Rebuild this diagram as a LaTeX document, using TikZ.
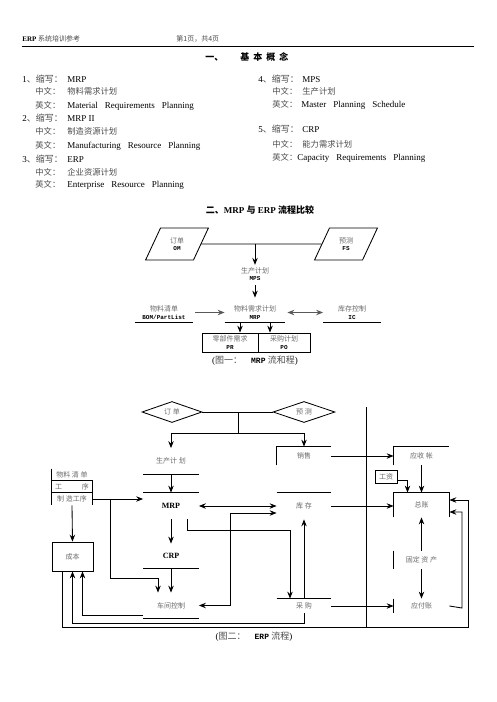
\documentclass[tikz,border=0pt]{standalone}
\usepackage{fontspec}
\setmainfont{Liberation Serif}
\setmonofont{Liberation Mono}
\newfontfamily\cjk{Noto Sans CJK SC}
\usetikzlibrary{arrows.meta,shapes.geometric,calc}
\newcommand{\zh}[1]{{\cjk #1}}
\newcommand{\mn}[1]{{\color{black}\ttfamily\bfseries\fontsize{6}{6}\selectfont #1}}
\definecolor{zhgray}{gray}{0.3}
\definecolor{labgray}{gray}{0.42}
\definecolor{arrgray}{gray}{0.35}
\begin{document}
\begin{tikzpicture}[x=1pt,y=-1pt,line width=0.85pt,
  >={Stealth[length=7pt,width=5.5pt,inset=2.5pt]},
  bt/.style={anchor=base west,inner sep=0pt,font=\fontsize{9}{10}\selectfont},
  zt/.style={anchor=base west,inner sep=0pt,text=zhgray,font=\cjk\fontsize{8.3}{10}\selectfont},
  lbl/.style={inner sep=0pt,align=center,text=labgray,font=\fontsize{7}{7.6}\selectfont},
  para/.style={trapezium,trapezium left angle=65,trapezium right angle=115,draw,
     minimum width=63pt,minimum height=22pt,inner sep=1pt,lbl},
  dia/.style={diamond,draw,aspect=2.9,minimum width=60pt,minimum height=21pt,inner sep=0pt,lbl},
  boxed/.style={draw,lbl}]
\fill[white] (0,0) rectangle (496,702);
\useasboundingbox (0,0) rectangle (496,702);

% header
\node[bt,font=\fontsize{7}{8}\selectfont] (hdl) at (22,41) {\textbf{ERP} \zh{\color{zhgray}系统培训参考}};
\node[bt,font=\fontsize{7}{8}\selectfont] (hdm) at (176,41) {\zh{\color{zhgray}第1页，共4页}};
\coordinate (hl1) at (22,46.5);
\coordinate (hl2) at (474,46.5);
\draw[line width=1pt] (hl1) -- (hl2);
\node[bt,font=\cjk\bfseries\fontsize{9}{10}\selectfont] (t1a) at (205,60) {一、};
\node[bt,font=\cjk\bfseries\fontsize{9}{10}\selectfont] (t1b) at (240,60) {基\hspace{4pt}本\hspace{4pt}概\hspace{4pt}念};

% section 1 left
\node[bt] (a1) at (22,82) {1\zh{\color{zhgray}、缩写：}};
\node[bt] (a1v) at (67,82) {MRP};
\node[zt] (a2) at (35,94) {中文：};
\node[zt] (a2v) at (67,94) {物料需求计划};
\node[zt] (a3) at (35,108) {英文：};
\node[bt] (a3v) at (67,108) {Material\hspace{7pt}Requirements\hspace{7pt}Planning};
\node[bt] (b1) at (22,121) {2\zh{\color{zhgray}、缩写：}};
\node[bt] (b1v) at (67,121) {MRP II};
\node[zt] (b2) at (35,134) {中文：};
\node[zt] (b2v) at (67,134) {制造资源计划};
\node[zt] (b3) at (35,148) {英文：};
\node[bt] (b3v) at (67,148) {Manufacturing\hspace{7pt}Resource\hspace{7pt}Planning};
\node[bt] (c1) at (22,162) {3\zh{\color{zhgray}、缩写：}};
\node[bt] (c1v) at (67,162) {ERP};
\node[zt] (c2) at (35,175) {中文：};
\node[zt] (c2v) at (67,175) {企业资源计划};
\node[zt] (c3) at (35,187) {英文：};
\node[bt] (c3v) at (67,187) {Enterprise\hspace{7pt}Resource\hspace{7pt}Planning};

% section 1 right
\node[bt] (d1) at (258,82) {4\zh{\color{zhgray}、缩写：}};
\node[bt] (d1v) at (302,82) {MPS};
\node[zt] (d2) at (272,94) {中文：};
\node[zt] (d2v) at (302,94) {生产计划};
\node[zt] (d3) at (272,107) {英文：};
\node[bt] (d3v) at (301,107) {Master\hspace{7pt}Planning\hspace{7pt}Schedule};
\node[bt] (e1) at (258,132) {5\zh{\color{zhgray}、缩写：}};
\node[bt] (e1v) at (302,132) {CRP};
\node[zt] (e2) at (272,147) {中文：};
\node[zt] (e2v) at (302,147) {能力需求计划};
\node[zt] (e3) at (272,160) {英文：};
\node[bt] (e3v) at (297,160) {Capacity\hspace{7pt}Requirements\hspace{7pt}Planning};

% section 2 title
\node[inner sep=0pt,font=\fontsize{9}{10}\selectfont] (t2) at (260,210)
  {\zh{\bfseries 二、}\textbf{MRP} \zh{\bfseries 与} \textbf{ERP} \zh{\bfseries 流程比较}};

% ---------- figure 1 ----------
\node[para] (om) at (177,244) {\zh{订单}\\\mn{OM}};
\node[para] (fs) at (346,244) {\zh{预测}\\\mn{FS}};
\coordinate (j1) at (255,244);
\draw (om.east) -- (fs.west);
\node[lbl] (mps) at (255,274) {\zh{生产计划}\\\mn{MPS}};
\draw[->] (j1) -- ([yshift=2pt]mps.north);
\node[lbl,minimum width=58pt,minimum height=19pt] (bom) at (164,312.5) {\zh{物料清单}\\\mn{BOM/PartList}};
\node[lbl,minimum width=60pt,minimum height=19pt] (mrp) at (255,312.5) {\zh{物料需求计划}\\\mn{MRP}};
\node[lbl,minimum width=57pt,minimum height=19pt] (ic) at (352,312.5) {\zh{库存控制}\\\mn{IC}};
\draw[->] ([yshift=-4pt]mps.south) -- ([yshift=5pt]mrp.north);
\draw (bom.south west) -- (bom.south east);
\draw (mrp.south west) -- (mrp.south east);
\draw (ic.south west) -- (ic.south east);
\draw[->,arrgray] ([xshift=2pt]bom.east) -- (mrp.west);
\draw[<->,arrgray] ([xshift=2pt]mrp.east) -- (ic.west);
\node[boxed,minimum width=56pt,minimum height=19pt] (pr) at (230,342.5) {\zh{零部件需求}\\\mn{PR}};
\node[boxed,minimum width=52pt,minimum height=19pt] (po) at (284,342.5) {\zh{采购计划}\\\mn{PO}};
\draw[->] ([xshift=-15pt]mrp.south) -- ([xshift=-15pt]mrp.south |- pr.north);
\draw[->] ([xshift=15pt]mrp.south) -- ([xshift=15pt]mrp.south |- po.north);
\node[inner sep=0pt,font=\fontsize{9}{10}\selectfont] (cap1) at (255,361)
  {(\zh{\color{zhgray}图一：}\quad{\ttfamily\bfseries\fontsize{8}{9}\selectfont MRP} \zh{\color{zhgray}流和程})};

% ---------- figure 2 ----------
\node[dia] (dord) at (172,412) {\zh{订\ 单}};
\node[dia,minimum width=62pt] (dfc) at (304,412) {\zh{预\ 测}};
\draw (dord.east) -- (dfc.west);
\coordinate (j2) at (238,412);
\coordinate (j3) at (238,433);
\draw (j2) -- (j3);

\node[lbl,minimum width=55pt,minimum height=25pt] (plan) at (171,461) {\zh{生产计\ 划}};
\node[inner sep=0pt,font=\bfseries\fontsize{8}{9}\selectfont,minimum width=55pt,minimum height=26pt] (mrp2) at (171,506) {MRP};
\node[inner sep=0pt,font=\bfseries\fontsize{8}{9}\selectfont,minimum width=55pt,minimum height=24pt] (crp) at (171,556) {CRP};
\node[lbl,minimum width=55pt,minimum height=25pt] (shop) at (171,605.5) {\zh{车间控制}};
\draw[->] (j3) -| (plan.north);
\draw (plan.south west) -- (plan.south east);
\draw (mrp2.north west) -- (mrp2.north east);
\draw (crp.south west) -- (crp.south east);
\draw (shop.south west) -- (shop.south east);
\draw[->] (plan.south) -- (mrp2.north);
\draw[->] (mrp2.south) -- (crp.north);
\draw[->] (crp.south) -- (shop.north);

% left table
\node[lbl,minimum width=40pt,minimum height=12pt] (r1) at (72,475) {\zh{物料\ 清\ 单}};
\node[lbl,minimum width=40pt,minimum height=12pt] (r2) at (72,487) {\zh{工\hspace{20pt}序}};
\node[lbl,minimum width=40pt,minimum height=12pt] (r3) at (72,499) {\zh{制\ 造工序}};
\draw (r1.north west) -- (r3.south west);
\draw (r2.north west) -- (r2.north east) -- (r3.south east);
\draw (r3.north west) -- (r3.north east);
\node[boxed,minimum width=41pt,minimum height=29pt] (cost) at (72.5,556.5) {\zh{成本}};
\draw[->] (r3.south) -- (cost.north);
\draw[->] (r3.east) -- (r3.east -| mrp2.west);
\coordinate (j4) at (110,499);
\coordinate (k1) at (158,578);
\draw[->] (j4) |- (k1) -- (k1 |- shop.north);

% middle column
\node[lbl,minimum width=54pt,minimum height=18pt] (sale) at (304,456) {\zh{销售}};
\node[lbl,minimum width=54pt,minimum height=26pt] (stock) at (304,506) {\zh{库\ 存}};
\node[lbl,minimum width=54pt,minimum height=14pt] (buy) at (304,606) {\zh{采\ 购}};
\draw (sale.south west) -- (sale.north west) -- (sale.north east);
\draw (stock.north west) -- (stock.north east);
\draw (buy.north west) -- (buy.north east);
\draw[->] (j3) -| (sale.north);
\draw[<->] (mrp2.east) -- (stock.west);
\coordinate (k2) at (230,560);
\coordinate (sk) at ([yshift=-7pt]stock.west);
\draw[<->] (shop.east) -- (shop.east -| k2) -- (k2 |- sk) -- (sk);
\coordinate (k3) at (290,530);
\draw[->] ([xshift=16pt]mrp2.south) |- (k3) -- (k3 |- buy.north);
\draw[->] (buy.north) -- (stock.south);
\coordinate (k4) at (304,623);
\draw[->] (buy.south) -- (k4) -| (cost.south);
\draw[->] ([yshift=3pt]shop.south west) -| ([xshift=10pt]cost.south);

% separator
\coordinate (s1) at (366,407);
\coordinate (s2) at (366,628);
\draw (s1) -- (s2);

% right column
\node[lbl,minimum width=55pt,minimum height=18pt] (recv) at (421.5,456) {\zh{应收\ 帐}};
\node[boxed,minimum width=22pt,minimum height=13pt] (wage) at (386,476.5) {\zh{工资}};
\node[lbl,minimum width=55pt,minimum height=24pt] (ledger) at (421.5,505) {\zh{总账}};
\node[lbl,minimum width=55pt,minimum height=18pt] (fixed) at (421.5,560) {\zh{固定\ 资\ 产}};
\node[lbl,minimum width=55pt,minimum height=14pt] (pay) at (421.5,606) {\zh{应付账}};
\draw (recv.south west) -- (recv.north west) -- (recv.north east);
\draw (ledger.south west) -- (ledger.north west) -- (ledger.north east) -- (ledger.south east);
\draw (fixed.north west) -- (fixed.south west);
\draw (pay.north west) -- (pay.south west);
\draw[->] (sale.east) -- (recv.west);
\draw[->] (recv.south) -- (ledger.north);
\draw[->] ([yshift=-4pt]wage.east) -| ([xshift=-14pt]ledger.north);
\draw[->] (stock.east) -- (stock.east -| ledger.west);
\draw[->] (fixed.north) -- (ledger.south);
\draw[->] (fixed.south) -- (pay.north);
\draw[->] (buy.east) -- (pay.west);
\coordinate (k5) at (462,608);
\coordinate (le1) at ([yshift=-7pt]ledger.east);
\coordinate (le2) at ([yshift=5pt]ledger.east);
\draw[->] (pay.east) -- (k5) |- (le1);
\coordinate (k6) at (468,627);
\draw[->] ([xshift=-10pt]cost.south) |- (k6) |- (le2);

\node[inner sep=0pt,font=\fontsize{9}{10}\selectfont] (cap2) at (254,637)
  {(\zh{\color{zhgray}图二：}\quad{\ttfamily\bfseries\fontsize{8}{9}\selectfont ERP} \zh{\color{zhgray}流程})};
\end{tikzpicture}
\end{document}
